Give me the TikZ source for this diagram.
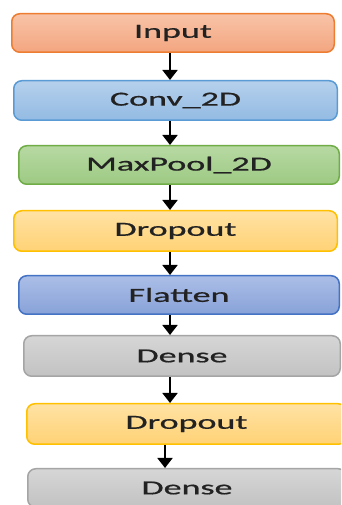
\documentclass[tikz,border=0pt]{standalone}
\usepackage{fontspec}
\usepackage{graphicx}
\setmainfont{Carlito}
\newfontfamily\lblfont[FakeBold=0.6]{Carlito}
\usetikzlibrary{arrows.meta}

% layer colours: border, gradient top, gradient bottom
\definecolor{inB}{HTML}{ED7D31}\definecolor{inT}{HTML}{F8C3A7}\definecolor{inD}{HTML}{F3A680}
\definecolor{cvB}{HTML}{5B9BD5}\definecolor{cvT}{HTML}{B5D0EC}\definecolor{cvD}{HTML}{93BBE3}
\definecolor{mpB}{HTML}{70AD47}\definecolor{mpT}{HTML}{B7D9A3}\definecolor{mpD}{HTML}{9DCA83}
\definecolor{doB}{HTML}{FFC000}\definecolor{doT}{HTML}{FFE2A4}\definecolor{doD}{HTML}{FFD275}
\definecolor{flB}{HTML}{4472C4}\definecolor{flT}{HTML}{ABBEE7}\definecolor{flD}{HTML}{88A2D8}
\definecolor{dnB}{HTML}{A5A5A5}\definecolor{dnT}{HTML}{D6D6D6}\definecolor{dnD}{HTML}{C2C2C2}
\definecolor{txt}{HTML}{222222}

% horizontally widened label text
\newcommand\wide[1]{\scalebox{1.8}[1]{#1}}

\tikzset{
  layer/.style n args={3}{draw=#1, top color=#2, bottom color=#3,
    line width=1.5pt, rounded corners=8pt, inner sep=0pt,
    text=txt, font=\lblfont\fontsize{20}{24}\selectfont},
  arr/.style={line width=1.8pt, -{Triangle[width=15pt,length=10pt]}}
}

\begin{document}
\begin{tikzpicture}[x=1pt,y=1pt]
\path[use as bounding box, clip] (0,0) rectangle (341,505);
\fill[white] (0,0) rectangle (341,505);

\node[layer={inB}{inT}{inD}, minimum width=322.5pt, minimum height=38.5pt] (input)  at (173,472)   {\wide{Input}};
\node[layer={cvB}{cvT}{cvD}, minimum width=323.5pt, minimum height=39.5pt] (conv)   at (175.5,404.5) {\wide{Conv\_2D}};
\node[layer={mpB}{mpT}{mpD}, minimum width=320.5pt, minimum height=38.5pt] (pool)   at (179,340)   {\wide{MaxPool\_2D}};
\node[layer={doB}{doT}{doD}, minimum width=323.5pt, minimum height=40.5pt] (drop1)  at (175.5,274) {\wide{Dropout}};
\node[layer={flB}{flT}{flD}, minimum width=320.5pt, minimum height=38.5pt] (flat)   at (179,210)   {\wide{Flatten}};
\node[layer={dnB}{dnT}{dnD}, minimum width=316.5pt, minimum height=40.5pt] (dense1) at (182,149)   {\wide{Dense}};
\node[layer={doB}{doT}{doD}, minimum width=319.5pt, minimum height=40.5pt] (drop2)  at (186.5,81) {\wide{Dropout}};
\node[layer={dnB}{dnT}{dnD}, minimum width=318.5pt, minimum height=38.5pt] (dense2) at (187,17)    {\wide{Dense}};

% vertical guides for the connectors
\coordinate (ax) at (170,0);
\coordinate (bx) at (165,0);

\draw[arr] (input.south -| ax) -- (conv.north -| ax);
\draw[arr] (conv.south -| ax)  -- (pool.north -| ax);
\draw[arr] (pool.south -| ax)  -- (drop1.north -| ax);
\draw[arr] (drop1.south -| ax) -- (flat.north -| ax);
\draw[arr] (flat.south -| ax)  -- (dense1.north -| ax);
\draw[arr] (dense1.south -| ax) -- (drop2.north -| ax);
\draw[arr] (drop2.south -| bx) -- (dense2.north -| bx);
\end{tikzpicture}
\end{document}
